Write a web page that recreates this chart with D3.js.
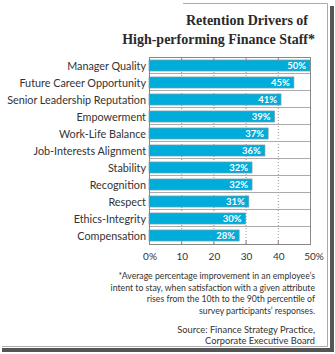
<!DOCTYPE html>
<html>
<head>
<meta charset="utf-8">
<script src="https://cdn.jsdelivr.net/npm/d3@7"></script>
<style>
  body { margin: 0; background: #fff; }
  svg { display: block; }
</style>
</head>
<body>
<svg width="335" height="354"></svg>
<script>
// retention drivers, % improvement in intent to stay
var drivers = ["Manager Quality", "Future Career Opportunity", "Senior Leadership Reputation",
  "Empowerment", "Work-Life Balance", "Job-Interests Alignment", "Stability",
  "Recognition", "Respect", "Ethics-Integrity", "Compensation"];
var values = [50, 45, 41, 39, 37, 36, 32, 32, 31, 30, 28];
var ticks = [0, 10, 20, 30, 40, 50];
var tickLabels = ["0%", "10", "20", "30", "40", "50%"];
var titleLines = ["Retention Drivers of", "High-performing Finance Staff*"];
var noteLines = ["*Average percentage improvement in an employee\u2019s",
  "intent to stay, when satisfaction with a given attribute",
  "rises from the 10th to the 90th percentile of",
  "survey participants\u2019 responses."];
var sourceLines = ["Source: Finance Strategy Practice,", "Corporate Executive Board"];

var svg = d3.select("svg"),
    width = +svg.attr("width"),
    height = +svg.attr("height");

var sans = "Lato, 'Open Sans', sans-serif";

// frame with drop shadow
svg.append("rect").attr("x", 2).attr("y", 348).attr("width", 332).attr("height", 4).attr("fill", "#555");
svg.append("rect").attr("x", 330).attr("y", 6).attr("width", 4).attr("height", 346).attr("fill", "#555");
svg.append("line").attr("x1", 183).attr("x2", 327.5).attr("y1", 3.5).attr("y2", 3.5).attr("stroke", "#aaa");
svg.append("line").attr("x1", 327.5).attr("x2", 327.5).attr("y1", 3.5).attr("y2", 346.5).attr("stroke", "#aaa");
svg.append("line").attr("x1", 2).attr("x2", 327.5).attr("y1", 346.5).attr("y2", 346.5).attr("stroke", "#aaa");

// title
svg.append("g").selectAll("text")
  .data(titleLines)
  .enter().append("text")
    .attr("x", function(d, i) { return i ? 315 : 308; })
    .attr("y", function(d, i) { return 25 + i * 19; })
    .attr("text-anchor", "end")
    .attr("font-family", "'Liberation Serif', serif")
    .attr("font-weight", "bold")
    .attr("font-size", 14)
    .attr("fill", "#2a2a2a")
    .text(function(d) { return d; });

var x = d3.scaleLinear().domain([0, 50]).range([149, 310]);
var y = d3.scaleBand().domain(drivers).range([57, 244])
    .paddingInner(0.35).paddingOuter(0.175);

// vertical dotted grid
svg.append("g").selectAll("line")
  .data(ticks.slice(1, -1))
  .enter().append("line")
    .attr("x1", function(d) { return x(d) + 0.5; })
    .attr("x2", function(d) { return x(d) + 0.5; })
    .attr("y1", 57).attr("y2", 244)
    .attr("stroke", "#999")
    .attr("stroke-dasharray", "1,2");

// row separators
svg.append("g").selectAll("line")
  .data(drivers.slice(1))
  .enter().append("line")
    .attr("x1", 149).attr("x2", 310)
    .attr("y1", function(d) { return y(d) - y.step() * 0.175 - 0.5; })
    .attr("y2", function(d) { return y(d) - y.step() * 0.175 - 0.5; })
    .attr("stroke", "#aaa");

// bars
svg.append("g").selectAll("rect")
  .data(values)
  .enter().append("rect")
    .attr("x", x(0))
    .attr("y", function(d, i) { return y(drivers[i]); })
    .attr("width", function(d) { return x(d) - x(0); })
    .attr("height", y.bandwidth())
    .attr("fill", "#00acd9")
    .attr("stroke", "#7c9ca8")
    .attr("stroke-width", 0.7);

svg.append("g").selectAll("text")
  .data(values)
  .enter().append("text")
    .attr("x", function(d) { return x(d) - 4; })
    .attr("y", function(d, i) { return y(drivers[i]) + y.bandwidth() / 2 + 3.5; })
    .attr("text-anchor", "end")
    .attr("font-family", sans)
    .attr("font-weight", "bold")
    .attr("font-size", 9.5)
    .attr("fill", "#fff")
    .text(function(d) { return d + "%"; });

// plot border + small ticks
svg.append("rect").attr("x", 149.5).attr("y", 57.5).attr("width", 161).attr("height", 187)
  .attr("fill", "none").attr("stroke", "#888");
var tk = svg.append("g").selectAll("g").data(ticks.slice(1, -1)).enter();
tk.append("line")
  .attr("x1", function(d) { return x(d) + 0.5; }).attr("x2", function(d) { return x(d) + 0.5; })
  .attr("y1", 57).attr("y2", 61).attr("stroke", "#888");
tk.append("line")
  .attr("x1", function(d) { return x(d) + 0.5; }).attr("x2", function(d) { return x(d) + 0.5; })
  .attr("y1", 240).attr("y2", 244).attr("stroke", "#888");

// category labels
svg.append("g").selectAll("text")
  .data(drivers)
  .enter().append("text")
    .attr("x", 146)
    .attr("y", function(d) { return y(d) + y.bandwidth() / 2 + 4; })
    .attr("text-anchor", "end")
    .attr("font-family", sans)
    .attr("font-size", 10.8)
    .attr("fill", "#333")
    .text(function(d) { return d; });

// x axis labels
svg.append("g").selectAll("text")
  .data(ticks)
  .enter().append("text")
    .attr("x", function(d, i) { return x(d) + (i == 0 ? 1 : i == ticks.length - 1 ? 4 : 1); })
    .attr("y", 259.5)
    .attr("text-anchor", "middle")
    .attr("font-family", sans)
    .attr("font-size", 10)
    .attr("fill", "#333")
    .text(function(d, i) { return tickLabels[i]; });

// footnote + source
svg.append("g").selectAll("text")
  .data(noteLines)
  .enter().append("text")
    .attr("x", 315)
    .attr("y", function(d, i) { return 279 + i * 11.5; })
    .attr("text-anchor", "end")
    .attr("font-family", sans)
    .attr("font-size", 8.7)
    .attr("fill", "#333")
    .text(function(d) { return d; });

svg.append("g").selectAll("text")
  .data(sourceLines)
  .enter().append("text")
    .attr("x", 315)
    .attr("y", function(d, i) { return 332.5 + i * 11; })
    .attr("text-anchor", "end")
    .attr("font-family", sans)
    .attr("font-size", 9.3)
    .attr("fill", "#333")
    .text(function(d) { return d; });
</script>
</body>
</html>
